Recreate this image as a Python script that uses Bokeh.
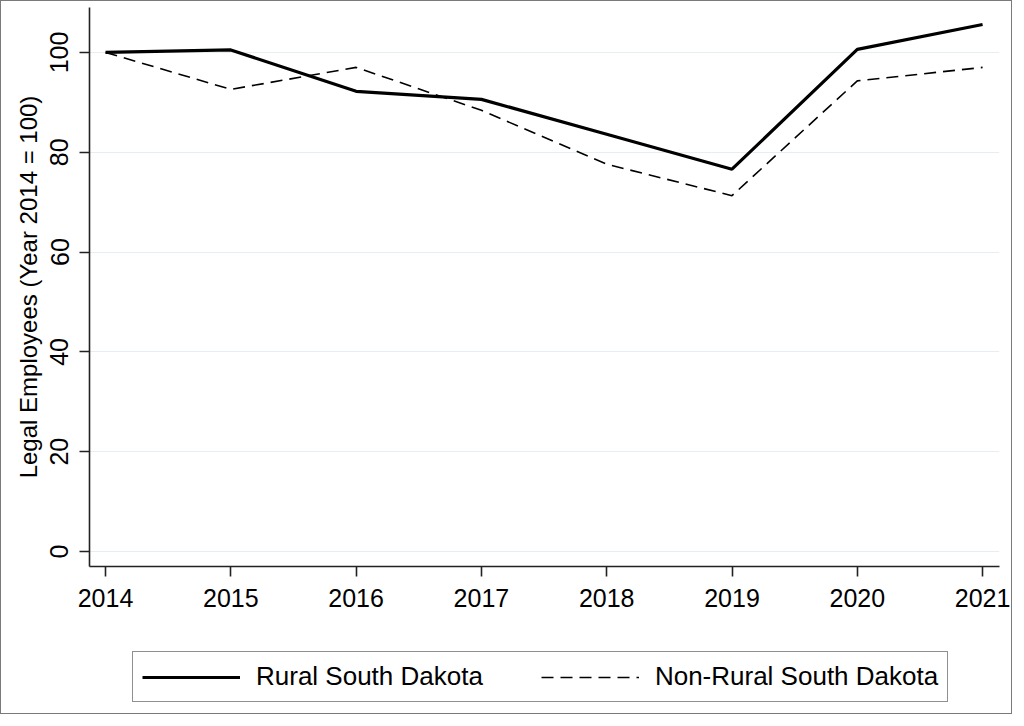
from bokeh.plotting import figure
from bokeh.models import Legend, LegendItem, Range1d, FixedTicker
from bokeh.layouts import column
from bokeh.embed import file_html
from bokeh.resources import INLINE

years = [2014, 2015, 2016, 2017, 2018, 2019, 2020, 2021]
rural = [100.0, 100.5, 92.2, 90.6, 83.6, 76.6, 100.6, 105.6]
non_rural = [100.0, 92.6, 97.0, 88.4, 77.6, 71.3, 94.3, 97.0]
y_ticks = [0, 20, 40, 60, 80, 100]
series_names = ["Rural South Dakota", "Non-Rural South Dakota"]
y_title = "Legal Employees (Year 2014 = 100)"

FONT = "Liberation Sans"

p = figure(width=1010, height=640, output_backend="svg", toolbar_location=None,
           x_range=Range1d(2013.872, 2021.135), y_range=Range1d(-3.0, 109.0),
           min_border_left=88, min_border_right=12, min_border_top=6, min_border_bottom=75,
           background_fill_color="white", border_fill_color="white")
p.outline_line_color = None

solid_style = dict(line_color="black", line_width=3.2)
dash_style = dict(line_color="black", line_width=1.6, line_dash="12 7")

p.line(years, rural, **solid_style)
p.line(years, non_rural, **dash_style)

# axes
for ax in (p.xaxis[0], p.yaxis[0]):
    ax.axis_line_color = "#222222"
    ax.axis_line_width = 1.6
    ax.major_tick_line_color = "#222222"
    ax.major_tick_line_width = 1.6
    ax.major_tick_out = 10
    ax.major_tick_in = 0
    ax.minor_tick_line_color = None
    ax.major_label_text_font = FONT
    ax.major_label_text_font_size = "25px"
    ax.major_label_text_color = "black"

p.xaxis.ticker = FixedTicker(ticks=years)
p.xaxis.major_label_standoff = 12
p.yaxis.ticker = FixedTicker(ticks=y_ticks)
p.yaxis.major_label_orientation = "vertical"
p.yaxis.major_label_standoff = 11
p.yaxis.axis_label = y_title
p.yaxis.axis_label_text_font = FONT
p.yaxis.axis_label_text_font_size = "24px"
p.yaxis.axis_label_text_font_style = "normal"
p.yaxis.axis_label_text_color = "black"
p.yaxis.axis_label_standoff = 6

p.xgrid.grid_line_color = None
p.ygrid.grid_line_color = "#e6eef1"
p.ygrid.grid_line_width = 1.2

# legend strip (the series lines are drawn out of view; only the legend shows)
pl = figure(width=1010, height=72, output_backend="svg", toolbar_location=None,
            x_range=Range1d(0, 1), y_range=Range1d(1000, 1001),
            x_axis_location=None, y_axis_location=None,
            min_border_left=0, min_border_right=0, min_border_top=0, min_border_bottom=0,
            background_fill_color="white", border_fill_color="white")
pl.outline_line_color = None
pl.grid.visible = False
lr1 = pl.line(years, rural, **solid_style)
lr2 = pl.line(years, non_rural, **dash_style)

legend = Legend(items=[LegendItem(label=series_names[0], renderers=[lr1]),
                       LegendItem(label=series_names[1], renderers=[lr2])],
                location=(43, 11), orientation="horizontal",
                label_text_font=FONT, label_text_font_size="26px",
                label_text_color="black",
                label_standoff=16, glyph_width=98, glyph_height=26,
                padding=9, spacing=58, margin=0,
                border_line_color="#222222", border_line_width=1.5,
                background_fill_color="white", background_fill_alpha=1.0)
pl.add_layout(legend, "center")

layout = column(p, pl, spacing=0, styles={"border": "1px solid #7a7a7a"})

open("out.html", "w").write(file_html(layout, INLINE))
